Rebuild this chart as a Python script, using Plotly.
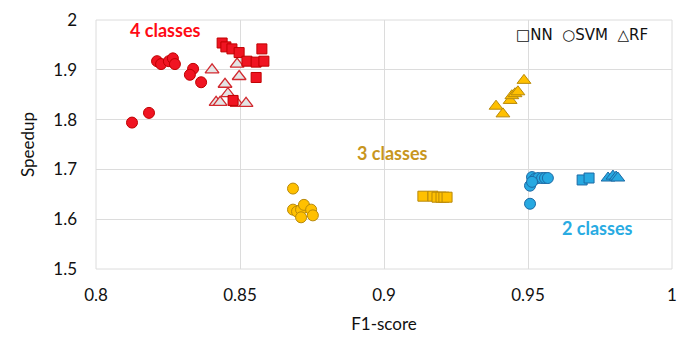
import plotly.graph_objects as go

# ---- data: (F1-score, speedup) per class count and model ----
c4_nn_f1 = [0.8438, 0.8451, 0.8472, 0.8497, 0.8524, 0.8556, 0.8583, 0.8576, 0.8556, 0.8476]
c4_nn_sp = [1.9538, 1.946, 1.942, 1.9346, 1.9173, 1.9154, 1.9173, 1.942, 1.8846, 1.8385]
c4_svm_f1 = [0.8212, 0.8226, 0.8253, 0.8267, 0.8274, 0.8337, 0.8326, 0.8365, 0.8184, 0.8125]
c4_svm_sp = [1.9173, 1.9115, 1.9173, 1.923, 1.9115, 1.9019, 1.890, 1.875, 1.8135, 1.794]
c4_rf_f1 = [0.8403, 0.849, 0.8497, 0.8448, 0.8458, 0.8417, 0.8431, 0.849, 0.8521]
c4_rf_sp = [1.9, 1.9115, 1.8865, 1.871, 1.852, 1.8346, 1.8346, 1.8327, 1.8327]

c3_nn_f1 = [0.9135, 0.917, 0.9184, 0.9198, 0.9208, 0.9219]
c3_nn_sp = [1.6462, 1.6462, 1.6442, 1.6442, 1.6442, 1.6442]
c3_svm_f1 = [0.8684, 0.8684, 0.8698, 0.8712, 0.8722, 0.8747, 0.8753, 0.8712]
c3_svm_sp = [1.6615, 1.6192, 1.6154, 1.6192, 1.6288, 1.6192, 1.6077, 1.6038]
c3_rf_f1 = [0.9486, 0.9389, 0.9413, 0.9438, 0.9444, 0.9455, 0.9465]
c3_rf_sp = [1.8788, 1.8269, 1.8115, 1.8385, 1.848, 1.852, 1.8558]

c2_nn_f1 = [0.9688, 0.9712]
c2_nn_sp = [1.6788, 1.6827]
c2_svm_f1 = [0.9514, 0.9524, 0.9535, 0.9549, 0.9559, 0.9569, 0.9507, 0.9514, 0.9507]
c2_svm_sp = [1.6846, 1.6808, 1.6827, 1.6827, 1.6827, 1.6827, 1.6673, 1.675, 1.631]
c2_rf_f1 = [0.9778, 0.9795, 0.9806, 0.9812]
c2_rf_sp = [1.6827, 1.6865, 1.6846, 1.6827]

x_ticks = [0.8, 0.85, 0.9, 0.95, 1.0]
x_tick_text = ["0.8", "0.85", "0.9", "0.95", "1"]
y_ticks = [1.5, 1.6, 1.7, 1.8, 1.9, 2.0]
y_tick_text = ["1.5", "1.6", "1.7", "1.8", "1.9", "2"]

RED, RED_EDGE = "#f01422", "#c00000"
GOLD, GOLD_EDGE = "#ffc000", "#b8890a"
BLUE, BLUE_EDGE = "#27a9e1", "#1d6aa5"
GRID = "#dcdcdc"

fig = go.Figure()


def add(xs, ys, symbol, size, fill, edge, width=1):
    fig.add_trace(go.Scatter(
        x=xs, y=ys, mode="markers", showlegend=False, cliponaxis=False,
        marker=dict(symbol=symbol, size=size, color=fill,
                    line=dict(color=edge, width=width)),
    ))


# 4 classes
add(c4_svm_f1, c4_svm_sp, "circle", 11, RED, RED_EDGE)
add(c4_rf_f1, c4_rf_sp, "triangle-up", 12, "#e4e4e4", "#d22a30", 1.3)
add(c4_nn_f1, c4_nn_sp, "square", 10, RED, RED_EDGE)
# 3 classes
add(c3_svm_f1, c3_svm_sp, "circle", 11, GOLD, GOLD_EDGE)
add(c3_nn_f1, c3_nn_sp, "square", 10, GOLD, GOLD_EDGE)
add(c3_rf_f1, c3_rf_sp, "triangle-up", 12, GOLD, GOLD_EDGE)
# 2 classes
add(c2_svm_f1, c2_svm_sp, "circle", 11, BLUE, BLUE_EDGE)
add(c2_nn_f1, c2_nn_sp, "square", 10, BLUE, BLUE_EDGE)
add(c2_rf_f1, c2_rf_sp, "triangle-up", 12, BLUE, BLUE_EDGE)

label_font = "Lato, 'Open Sans', sans-serif"
fig.add_annotation(x=0.8243, y=1.979, text="<b>4 classes</b>", showarrow=False,
                   font=dict(family=label_font, size=18, color="#ff0a14"))
fig.add_annotation(x=0.9031, y=1.7327, text="<b>3 classes</b>", showarrow=False,
                   font=dict(family=label_font, size=18, color="#c8961e"))
fig.add_annotation(x=0.9743, y=1.5827, text="<b>2 classes</b>", showarrow=False,
                   font=dict(family=label_font, size=18, color="#29abe2"))
fig.add_annotation(x=0.9688, y=1.969, text="□NN  ○SVM  △RF", showarrow=False,
                   font=dict(family="'DejaVu Sans', sans-serif", size=15, color="#111111"))

# light frame round the plotting area (edge gridlines)
fig.add_shape(type="rect", xref="paper", yref="paper", x0=0, y0=0, x1=1, y1=1,
              line=dict(color=GRID, width=1), layer="below")

fig.update_layout(
    width=699, height=347,
    margin=dict(l=96, r=27, t=9, b=78),
    paper_bgcolor="white", plot_bgcolor="white",
    font=dict(family=label_font, size=17, color="#111111"),
    xaxis=dict(range=[0.8, 1.0], tickvals=x_ticks, ticktext=x_tick_text,
               showgrid=True, gridcolor=GRID, gridwidth=1, zeroline=False,
               showline=False, ticks="", ticklabelstandoff=14,
               ticklabeloverflow="allow",
               title=dict(text="F1-score", font=dict(size=17), standoff=14)),
    yaxis=dict(range=[1.5, 2.0], tickvals=y_ticks, ticktext=y_tick_text,
               showgrid=True, gridcolor=GRID, gridwidth=1, zeroline=False,
               showline=False, ticks="", ticklabelstandoff=18,
               ticklabeloverflow="allow",
               title=dict(text="Speedup", font=dict(size=17), standoff=14)),
)

fig.write_html("out.html")
